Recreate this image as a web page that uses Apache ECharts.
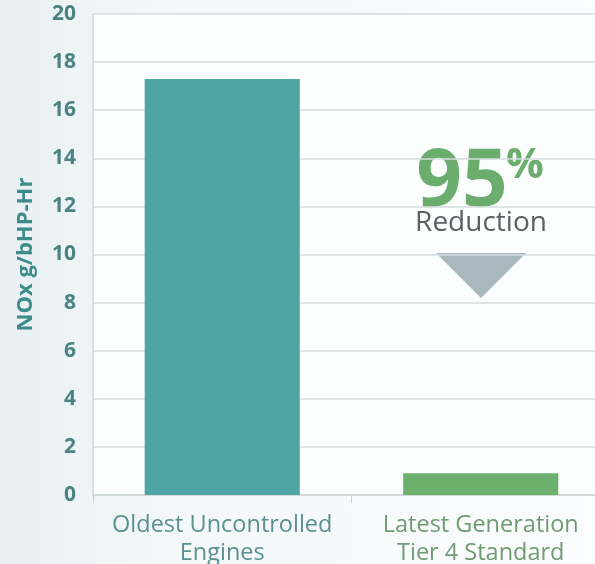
<!DOCTYPE html>
<html>
<head>
<meta charset="utf-8">
<script src="https://cdn.jsdelivr.net/npm/echarts@6/dist/echarts.min.js"></script>
<style>
    html, body { margin: 0; padding: 0; }
    #main {
        width: 595px;
        height: 564px;
        background: linear-gradient(90deg, #e8f0f3 0%, #f4f8fa 30%, #fbfcfd 100%);
    }
</style>
</head>
<body>
<div id="main"></div>
<script>
const categories = ['Oldest Uncontrolled\nEngines', 'Latest Generation\nTier 4 Standard'];
const values = [17.3, 0.9];
const barColors = ['#4fa4a4', '#6cb06e'];
const labelColors = ['#5b9090', '#6f9c72'];
const yTicks = [0, 2, 4, 6, 8, 10, 12, 14, 16, 18, 20];

let mycharts = echarts.init(document.getElementById('main'));
let option = {
    backgroundColor: 'transparent',
    grid: {
        left: 93,
        width: 517,
        top: 14,
        bottom: 69,
        outerBoundsMode: 'none',
        show: true,
        borderWidth: 0,
        backgroundColor: '#fcfdfd'
    },
    xAxis: {
        type: 'category',
        data: categories,
        axisTick: {
            show: true,
            length: 8,
            lineStyle: { color: '#c9d2d6' }
        },
        axisLine: {
            show: true,
            lineStyle: { color: '#cfd6d9', width: 1.5 }
        },
        axisLabel: {
            fontFamily: 'Open Sans',
            fontSize: 23.5,
            lineHeight: 28,
            margin: 16,
            interval: 0,
            hideOverlap: false,
            color: function (v, i) { return labelColors[i]; }
        }
    },
    yAxis: {
        type: 'value',
        min: yTicks[0],
        max: yTicks[yTicks.length - 1],
        interval: 2,
        name: 'NOx g/bHP-Hr',
        nameLocation: 'middle',
        nameGap: 56,
        nameRotate: 90,
        nameTextStyle: {
            fontFamily: 'Open Sans',
            fontWeight: 'bold',
            fontSize: 22,
            color: '#3e8b8b'
        },
        axisTick: { show: false },
        axisLine: {
            show: true,
            lineStyle: { color: '#cfd6d9', width: 1.5 }
        },
        splitLine: {
            show: true,
            lineStyle: { color: '#d6dcdf', width: 1.5 }
        },
        axisLabel: {
            fontFamily: 'Open Sans',
            fontWeight: 'bold',
            fontSize: 21,
            margin: 17,
            color: '#4b8282'
        }
    },
    series: [
        {
            type: 'bar',
            barWidth: '60%',
            data: values.map(function (v, i) {
                return { value: v, itemStyle: { color: barColors[i] } };
            })
        }
    ],
    graphic: [
        {
            type: 'text',
            x: 462,
            y: 183,
            style: {
                text: '95',
                fontFamily: 'Open Sans',
                fontWeight: 'bold',
                fontSize: 80,
                fill: '#6aad6c',
                align: 'center',
                verticalAlign: 'middle'
            }
        },
        {
            type: 'text',
            x: 525,
            y: 166,
            style: {
                text: '%',
                fontFamily: 'Open Sans',
                fontWeight: 'bold',
                fontSize: 42,
                fill: '#6aad6c',
                align: 'center',
                verticalAlign: 'middle'
            }
        },
        {
            type: 'text',
            x: 481,
            y: 223,
            style: {
                text: 'Reduction',
                fontFamily: 'Open Sans',
                fontSize: 28,
                fill: '#5b6062',
                align: 'center',
                verticalAlign: 'middle'
            }
        },
        {
            type: 'polygon',
            shape: { points: [[436, 253], [526, 253], [481, 298]] },
            style: { fill: '#a9b8bf' }
        }
    ]
};
mycharts.setOption(option);
window.addEventListener('resize', function () {
    mycharts.resize();
});
</script>
</body>
</html>
